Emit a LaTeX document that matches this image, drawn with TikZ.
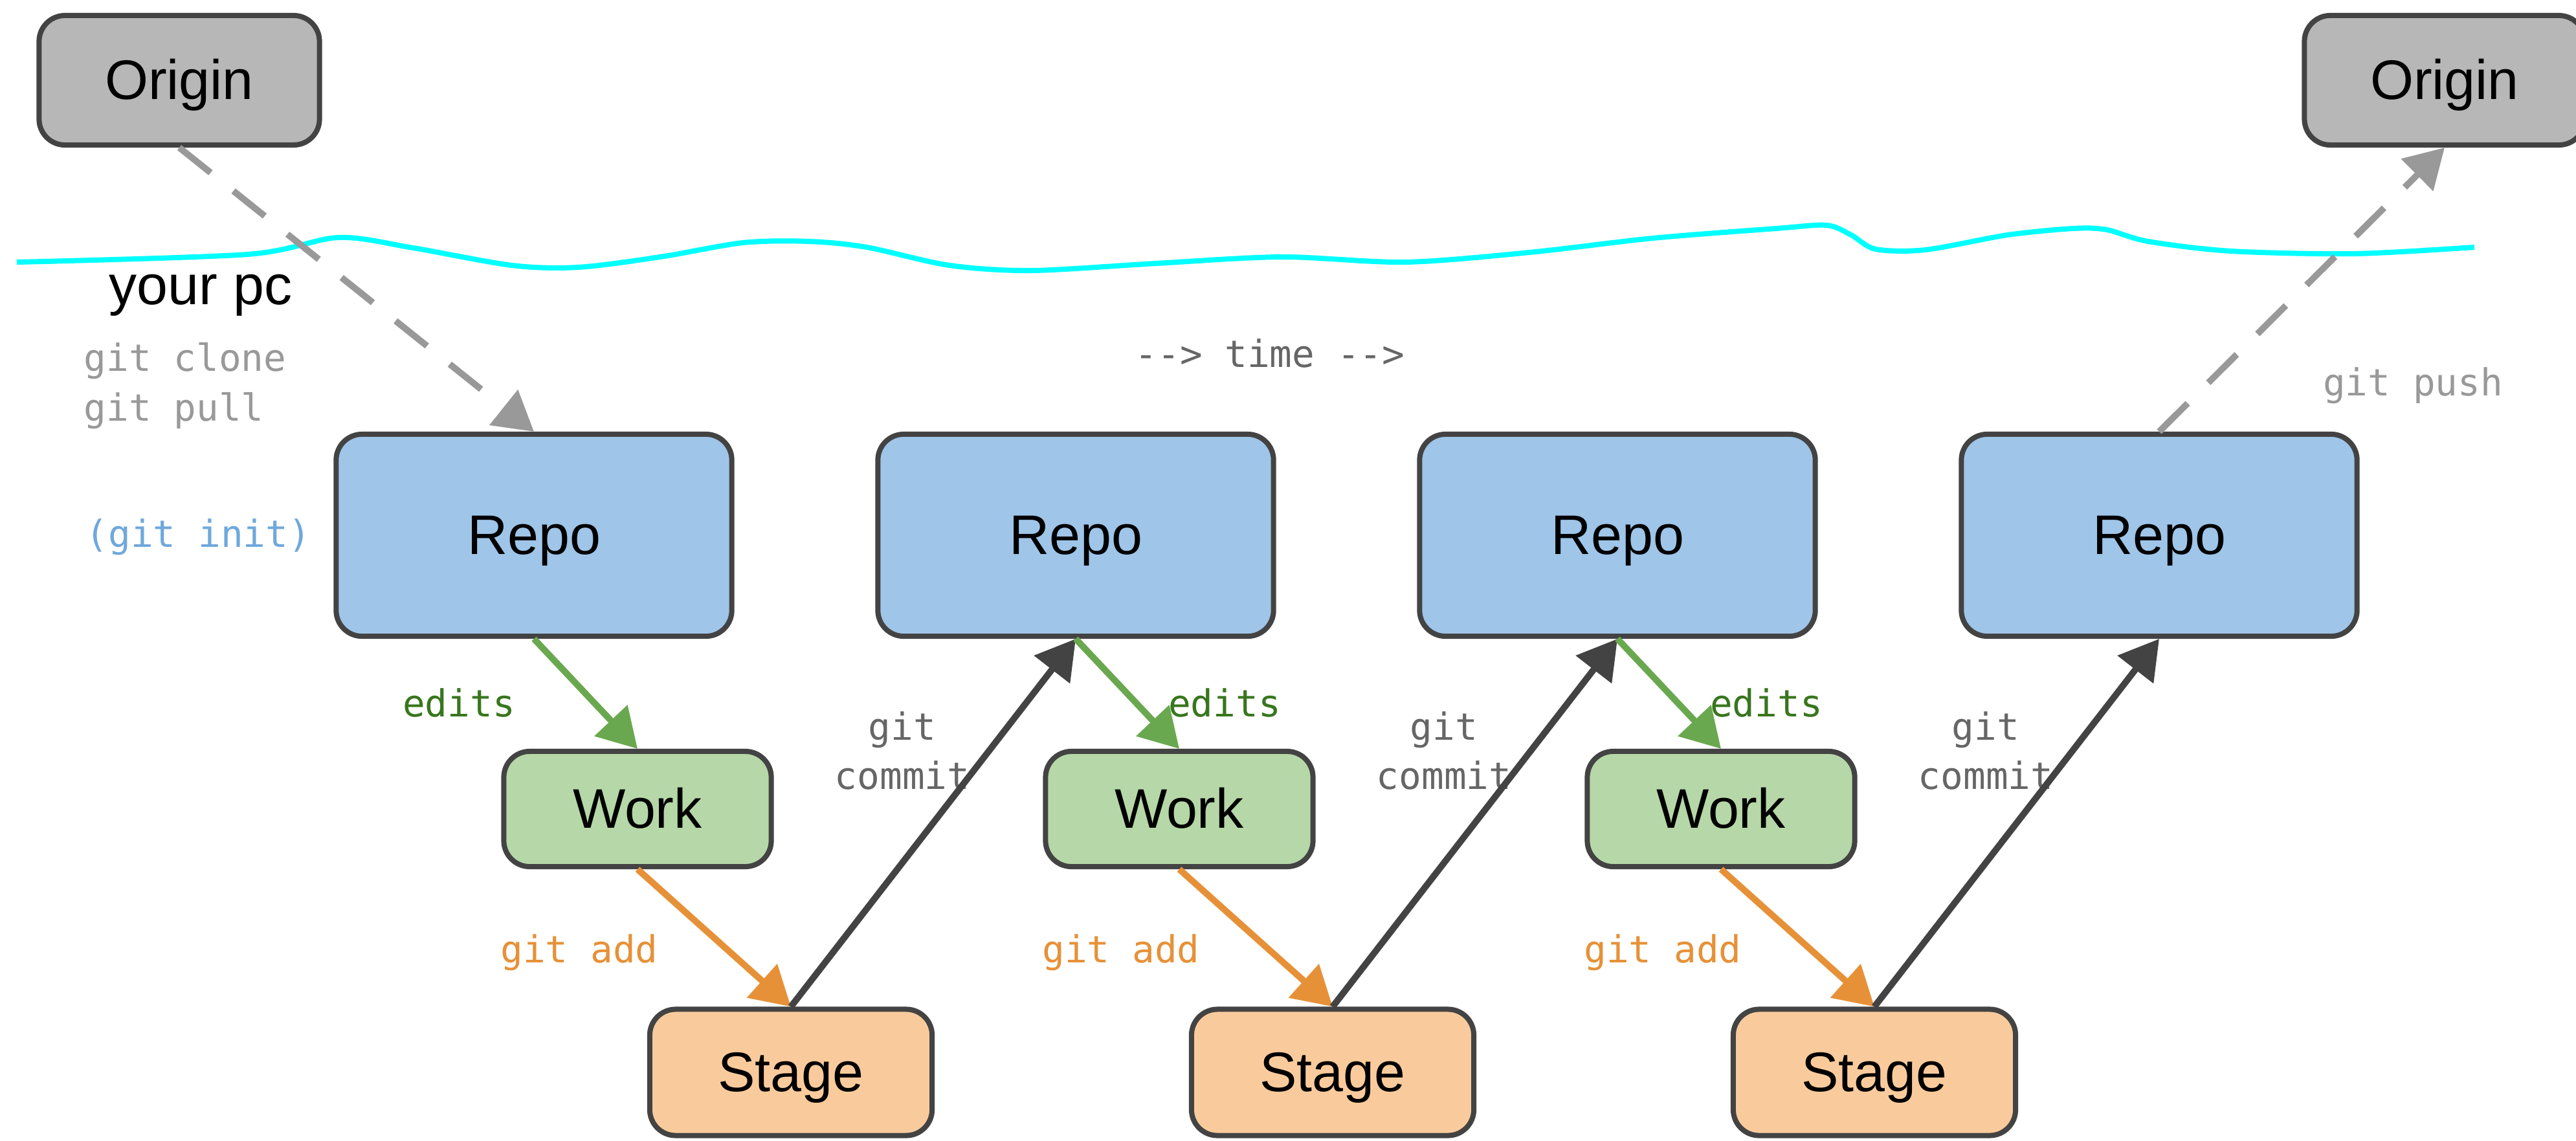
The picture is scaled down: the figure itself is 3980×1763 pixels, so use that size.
\documentclass[tikz,border=0pt]{standalone}
\usepackage{fontspec}
\setmainfont{Liberation Sans}
\newfontfamily\codefont{DejaVu Sans Mono}
\usetikzlibrary{arrows.meta}

\definecolor{boxline}{HTML}{434343}
\definecolor{originfill}{HTML}{B7B7B7}
\definecolor{repofill}{HTML}{9FC5E8}
\definecolor{workfill}{HTML}{B6D7A8}
\definecolor{stagefill}{HTML}{F9CB9C}
\definecolor{editgreen}{HTML}{6AA84F}
\definecolor{edittext}{HTML}{38761D}
\definecolor{addorange}{HTML}{E69138}
\definecolor{commitdark}{HTML}{434343}
\definecolor{remotegrey}{HTML}{999999}
\definecolor{labelgrey}{HTML}{666666}
\definecolor{initblue}{HTML}{6FA8DC}
\definecolor{netline}{HTML}{00FFFF}

\begin{document}
\begin{tikzpicture}[x=0.01cm, y=-0.01cm,
  box/.style={draw=boxline, line width=0.08cm, rounded corners=0.4cm, inner sep=0pt,
    font=\fontsize{24.5}{29}\selectfont, text height=22.2pt, text depth=5.2pt},
  originbox/.style={box, fill=originfill, minimum width=4.33cm, minimum height=2.0cm},
  repobox/.style={box, fill=repofill, minimum width=6.11cm, minimum height=3.12cm},
  workbox/.style={box, fill=workfill, minimum width=4.13cm, minimum height=1.78cm},
  stagebox/.style={box, fill=stagefill, minimum width=4.36cm, minimum height=1.95cm},
  code/.style={font=\codefont\fontsize{16.4}{21.7}\selectfont, inner sep=0pt},
  flow/.style={line width=0.1cm, -{Triangle[length=6mm,width=6.8mm]}},
  remote/.style={flow, draw=remotegrey, dash pattern=on 0.62cm off 0.45cm},
]
\useasboundingbox (0,0) rectangle (3980,1763);

% boundary between the remote and the local machine
\draw[netline, line width=0.08cm] plot[smooth] coordinates {
  (26,405) (383,393) (523,367) (638,383) (791,410) (893,413) (1020,397)
  (1148,375) (1250,373) (1339,382) (1467,410) (1594,418) (1786,407)
  (1980,397) (2171,405) (2363,390) (2554,368) (2745,353) (2822,348)
  (2860,363) (2898,385) (2975,386) (3102,363) (3204,353) (3255,355)
  (3319,373) (3447,388) (3638,392) (3823,382)};

% remotes
\node[originbox] (o1) at (277,124) {Origin};
\node[originbox] (o2) at (3777,124) {Origin};

% repository snapshots
\node[repobox] (r1) at (825,827) {Repo};
\node[repobox] (r2) at (1662,827) {Repo};
\node[repobox] (r3) at (2499,827) {Repo};
\node[repobox] (r4) at (3336,827) {Repo};

% working trees
\node[workbox] (w1) at (985,1250) {Work};
\node[workbox] (w2) at (1822,1250) {Work};
\node[workbox] (w3) at (2659,1250) {Work};

% staging areas
\node[stagebox] (s1) at (1222,1657) {Stage};
\node[stagebox] (s2) at (2059,1657) {Stage};
\node[stagebox] (s3) at (2896,1657) {Stage};

% text labels
\node (pc) at (310,456) {\fontsize{24.5}{29}\selectfont your pc};
\node[code, text=remotegrey, anchor=west, align=left] (clone) at (129,596) {git clone\\git pull};
\node[code, text=initblue, anchor=west] (init) at (132,830) {(git init)};
\node[code, text=labelgrey] (time) at (1962,546) {{-}{-}> time {-}{-}>};
\node[code, text=remotegrey] (push) at (3728,596) {git push};

\node[code, text=edittext] (e1) at (709,1086) {edits};
\node[code, text=edittext] (e2) at (1892,1086) {edits};
\node[code, text=edittext] (e3) at (2729,1086) {edits};

\node[code, text=addorange] (a1) at (895,1472) {git add};
\node[code, text=addorange] (a2) at (1732,1472) {git add};
\node[code, text=addorange] (a3) at (2569,1472) {git add};

\node[code, text=labelgrey, align=center] (c1) at (1394,1160) {git\\commit};
\node[code, text=labelgrey, align=center] (c2) at (2231,1160) {git\\commit};
\node[code, text=labelgrey, align=center] (c3) at (3068,1160) {git\\commit};

% clone / push
\draw[remote] (o1.south) -- (r1.north);
\draw[remote] (r4.north) -- (o2.south);

% edit -> add -> commit cycles
\draw[flow, draw=editgreen] (r1.south) -- (w1.north);
\draw[flow, draw=addorange] (w1.south) -- (s1.north);
\draw[flow, draw=commitdark] (s1.north) -- (r2.south);

\draw[flow, draw=editgreen] (r2.south) -- (w2.north);
\draw[flow, draw=addorange] (w2.south) -- (s2.north);
\draw[flow, draw=commitdark] (s2.north) -- (r3.south);

\draw[flow, draw=editgreen] (r3.south) -- (w3.north);
\draw[flow, draw=addorange] (w3.south) -- (s3.north);
\draw[flow, draw=commitdark] (s3.north) -- (r4.south);
\end{tikzpicture}
\end{document}
